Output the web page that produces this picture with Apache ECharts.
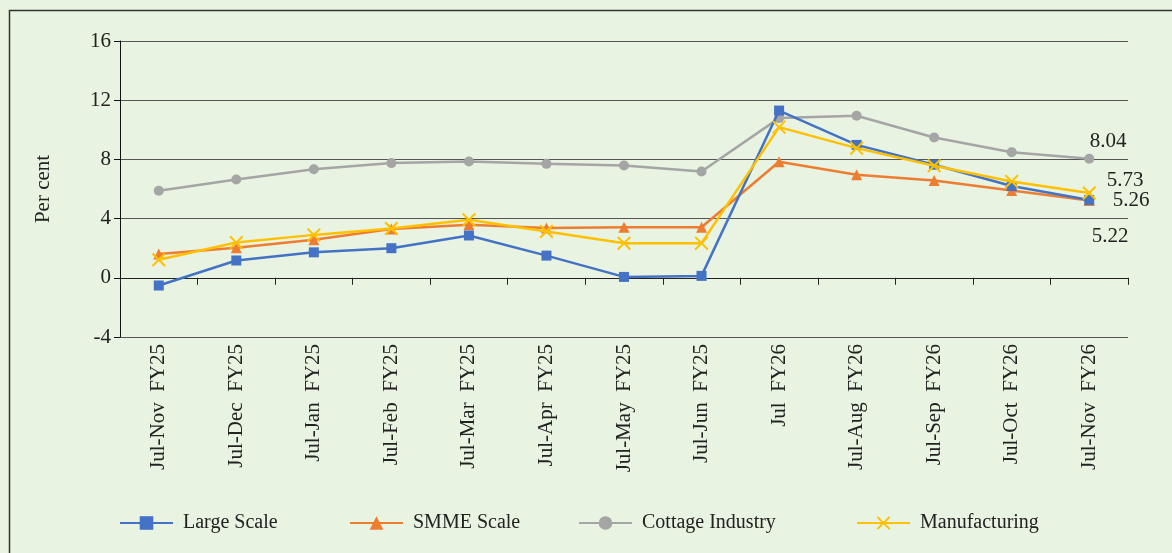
<!DOCTYPE html>
<html>
<head>
<meta charset="utf-8">
<script src="https://cdn.jsdelivr.net/npm/echarts@6/dist/echarts.min.js"></script>
<style>
  html, body { margin: 0; padding: 0; background: #e8f3e1; }
  #chart { width: 1172px; height: 553px; }
</style>
</head>
<body>
<div id="chart"></div>
<script>
// categories (x axis)
var periods = ['Jul-Nov  FY25', 'Jul-Dec  FY25', 'Jul-Jan  FY25', 'Jul-Feb  FY25', 'Jul-Mar  FY25',
  'Jul-Apr  FY25', 'Jul-May  FY25', 'Jul-Jun  FY25', 'Jul  FY26', 'Jul-Aug  FY26',
  'Jul-Sep  FY26', 'Jul-Oct  FY26', 'Jul-Nov  FY26'];

// growth, per cent
var largeScale = [-0.52, 1.17, 1.72, 2.0, 2.86, 1.5, 0.06, 0.13, 11.3, 8.98, 7.64, 6.2, 5.26];
var smmeScale = [1.6, 2.03, 2.57, 3.3, 3.58, 3.36, 3.42, 3.42, 7.84, 6.97, 6.57, 5.9, 5.22];
var cottage = [5.88, 6.64, 7.34, 7.75, 7.86, 7.7, 7.59, 7.18, 10.79, 10.95, 9.48, 8.49, 8.04];
var manufacturing = [1.22, 2.38, 2.9, 3.33, 3.92, 3.13, 2.34, 2.34, 10.18, 8.76, 7.57, 6.51, 5.73];

var yTicks = { min: -4, max: 16, step: 4 };

var font = 'Liberation Serif';
var xMark = 'path://M0,1L1,0L5,4L9,0L10,1L6,5L10,9L9,10L5,6L1,10L0,9L4,5Z';

// put a value label only on the last point
function withEndLabel(arr, offset) {
	return arr.map(function(v, i) {
		if (i !== arr.length - 1) return v;
		return {
			value: v,
			label: {
				show: true,
				position: 'inside',
				offset: offset,
				formatter: function(p) { return p.value.toFixed(2); },
				color: '#222',
				fontFamily: font,
				fontSize: 21
			}
		};
	});
}

function legendAt(name, left) {
	return {
		data: [name],
		left: left,
		top: 513,
		padding: 0,
		itemWidth: 53,
		itemHeight: 17,
		textStyle: { fontFamily: font, fontSize: 20, color: '#222', padding: [0, 0, 0, 5] }
	};
}

var myChart = echarts.init(document.getElementById('chart'));
var option = {
	backgroundColor: '#e8f3e1',
	animation: false,
	graphic: [{
		type: 'rect',
		shape: { x: 9.5, y: 10.5, width: 1300, height: 700 },
		style: { fill: 'none', stroke: '#333', lineWidth: 1.5 },
		silent: true
	}],
	grid: { left: 120, right: 44, top: 41, bottom: 216 },
	legend: [
		legendAt('Large Scale', 119),
		legendAt('SMME Scale', 349),
		legendAt('Cottage Industry', 578),
		legendAt('Manufacturing', 856)
	],
	xAxis: [{
		type: 'category',
		data: periods,
		position: 'bottom',
		axisLine: { show: false, onZero: false },
		axisTick: { show: false },
		axisLabel: {
			rotate: 90,
			margin: 7,
			interval: 0,
			fontFamily: font,
			fontSize: 21,
			color: '#222'
		}
	}, {
		// tick marks sit on the zero line
		type: 'category',
		data: periods,
		position: 'top',
		axisLine: { show: true, onZero: true, lineStyle: { color: '#222', width: 1 } },
		axisTick: { show: true, inside: true, interval: 0, length: 7, lineStyle: { color: '#222' } },
		axisLabel: { show: false }
	}],
	yAxis: {
		type: 'value',
		min: yTicks.min,
		max: yTicks.max,
		interval: yTicks.step,
		name: 'Per cent',
		nameLocation: 'middle',
		nameGap: 66,
		nameTextStyle: { fontFamily: font, fontSize: 21, color: '#222' },
		axisLine: { show: true, lineStyle: { color: '#111', width: 1 } },
		axisTick: { show: true, length: 6, lineStyle: { color: '#111' } },
		axisLabel: { fontFamily: font, fontSize: 21, color: '#222', margin: 9 },
		splitLine: { show: true, lineStyle: { color: '#555', width: 1 } }
	},
	series: [{
		name: 'Large Scale',
		type: 'line',
		data: withEndLabel(largeScale, [42, 1]),
		symbol: 'rect',
		symbolSize: 10,
		color: '#4472c4',
		lineStyle: { width: 2.5 },
		z: 4
	}, {
		name: 'SMME Scale',
		type: 'line',
		data: withEndLabel(smmeScale, [21, 36]),
		symbol: 'triangle',
		symbolSize: 11,
		color: '#ed7d31',
		lineStyle: { width: 2.5 },
		z: 3
	}, {
		name: 'Cottage Industry',
		type: 'line',
		data: withEndLabel(cottage, [19, -17]),
		symbol: 'circle',
		symbolSize: 10,
		color: '#a5a5a5',
		lineStyle: { width: 2.5 },
		z: 2
	}, {
		name: 'Manufacturing',
		type: 'line',
		data: withEndLabel(manufacturing, [36, -13]),
		symbol: xMark,
		symbolSize: 14,
		color: '#ffc000',
		lineStyle: { width: 2.5 },
		z: 5
	}]
};
myChart.setOption(option);
</script>
</body>
</html>
